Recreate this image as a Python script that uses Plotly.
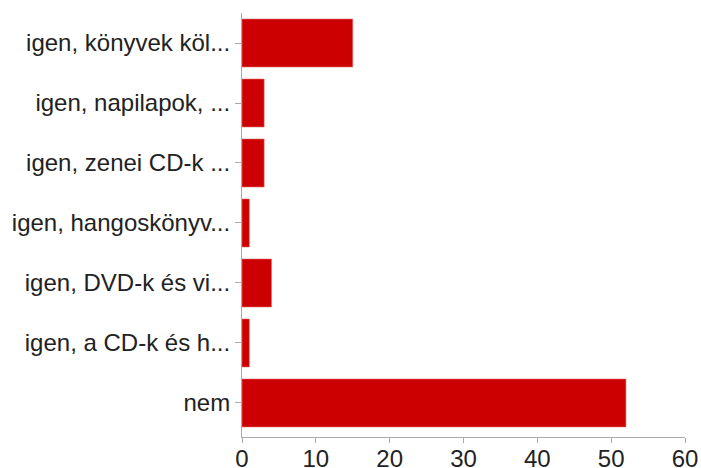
import plotly.graph_objects as go

categories = [
    "igen, könyvek köl...",
    "igen, napilapok, ...",
    "igen, zenei CD-k ...",
    "igen, hangoskönyv...",
    "igen, DVD-k és vi...",
    "igen, a CD-k és h...",
    "nem",
]
values = [15, 3, 3, 1, 4, 1, 52]
x_ticks = [0, 10, 20, 30, 40, 50, 60]

fig = go.Figure(
    go.Bar(
        x=values,
        y=categories,
        orientation="h",
        marker=dict(color="#cc0000", line=dict(color="#e07070", width=0.6)),
        hoverinfo="x+y",
    )
)

fig.update_layout(
    width=701,
    height=468,
    margin=dict(l=242, r=16, t=13, b=31),
    plot_bgcolor="white",
    paper_bgcolor="white",
    bargap=0.2,
    showlegend=False,
    font=dict(family="Liberation Sans, Arial, sans-serif", size=24, color="#222222"),
    xaxis=dict(
        range=[0, 60],
        tickvals=x_ticks,
        ticktext=[str(v) for v in x_ticks],
        showgrid=False,
        zeroline=False,
        showline=True,
        linecolor="#aaaaaa",
        linewidth=1,
        ticks="outside",
        ticklen=5,
        tickcolor="#aaaaaa",
        ticklabelstandoff=-5,
        automargin=False,
        fixedrange=True,
    ),
    yaxis=dict(
        categoryorder="array",
        categoryarray=categories,
        range=[6.567, -0.5],
        showgrid=False,
        zeroline=False,
        showline=True,
        linecolor="#aaaaaa",
        linewidth=1,
        ticks="outside",
        ticklen=6,
        tickcolor="#aaaaaa",
        automargin=False,
        fixedrange=True,
    ),
)

fig.write_html(
    "out.html",
    config={"displayModeBar": False},
    post_script="document.body.style.margin='0';document.body.style.overflow='hidden';",
)
